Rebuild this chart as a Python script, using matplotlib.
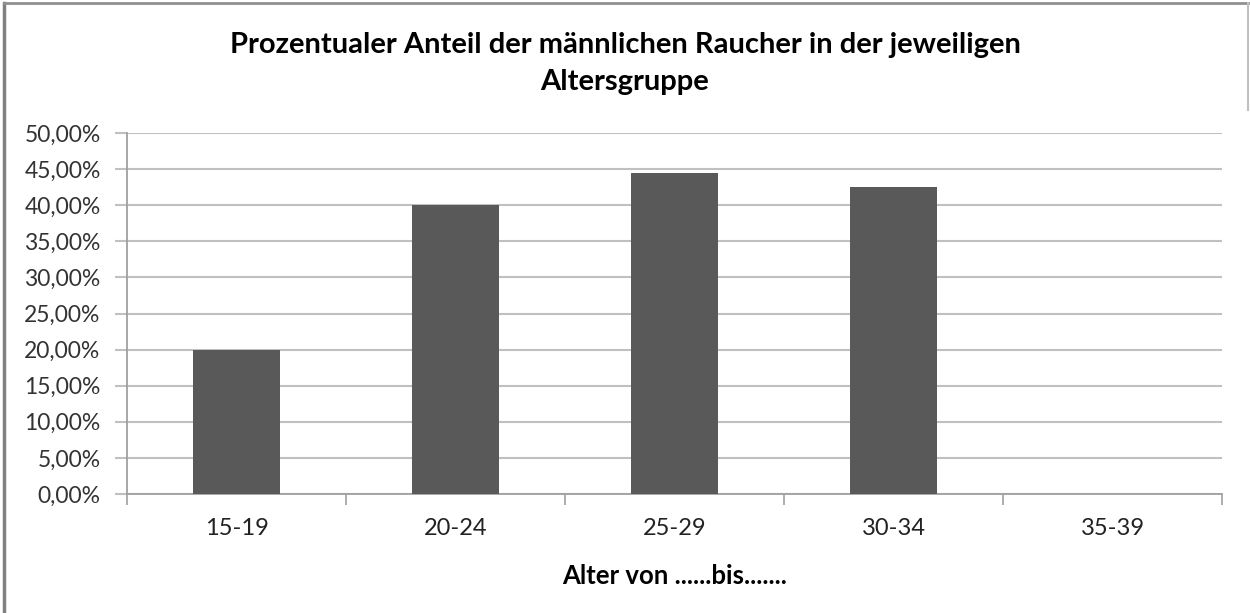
import matplotlib.pyplot as plt
import numpy as np
from matplotlib.ticker import FuncFormatter, MultipleLocator, FixedLocator
from matplotlib.lines import Line2D

plt.rcParams['font.family'] = ['Lato', 'DejaVu Sans']

groups = ['15-19', '20-24', '25-29', '30-34', '35-39']
anteil = [19.9, 40.0, 44.4, 42.5, 0.0]

fig = plt.figure(figsize=(12.5, 6.13), dpi=100)
ax = fig.add_axes([0.1016, 0.1941, 0.8760, 0.5889])

x = np.arange(len(groups))
ax.bar(x, anteil, width=0.4, color='#595959', zorder=3)

ax.set_xlim(-0.5, len(groups) - 0.5)
ax.set_ylim(0, 50)
ax.yaxis.set_major_locator(MultipleLocator(5))
ax.yaxis.set_major_formatter(FuncFormatter(lambda v, p: f'{v:.2f}'.replace('.', ',') + '%'))
ax.grid(axis='y', color='#c0c0c0', linewidth=1.5, zorder=0)

ax.set_xticks(x)
ax.set_xticklabels(groups)
ax.xaxis.set_minor_locator(FixedLocator(np.arange(-0.5, len(groups), 1.0)))
ax.tick_params(axis='x', which='major', length=0, pad=17, labelsize=17, colors='#222222')
ax.tick_params(axis='x', which='minor', length=8, color='#a0a0a0', width=1.2)
ax.tick_params(axis='y', length=9, color='#c0c0c0', width=1.5, labelsize=16.5,
               labelcolor='#333333', pad=10)

for s in ['top', 'right']:
    ax.spines[s].set_visible(False)
for s in ['left', 'bottom']:
    ax.spines[s].set_color('#a0a0a0')
    ax.spines[s].set_linewidth(1.3)

ax.set_xlabel('Alter von ......bis.......', fontsize=18.5, fontweight='bold', labelpad=18)
fig.text(0.5, 0.926, 'Prozentualer Anteil der männlichen Raucher in der jeweiligen',
         ha='center', va='center', fontsize=21, fontweight='bold')
fig.text(0.5, 0.867, 'Altersgruppe', ha='center', va='center', fontsize=21, fontweight='bold')

# outer chart frame
fig.add_artist(Line2D([0.003, 0.003], [0.0, 0.995], transform=fig.transFigure,
                      color='#808080', linewidth=2.5))
fig.add_artist(Line2D([0.003, 0.998], [0.995, 0.995], transform=fig.transFigure,
                      color='#909090', linewidth=2))
fig.add_artist(Line2D([0.998, 0.998], [0.995, 0.82], transform=fig.transFigure,
                      color='#c0c0c0', linewidth=1.5))

fig.savefig('out.png', dpi=100)
